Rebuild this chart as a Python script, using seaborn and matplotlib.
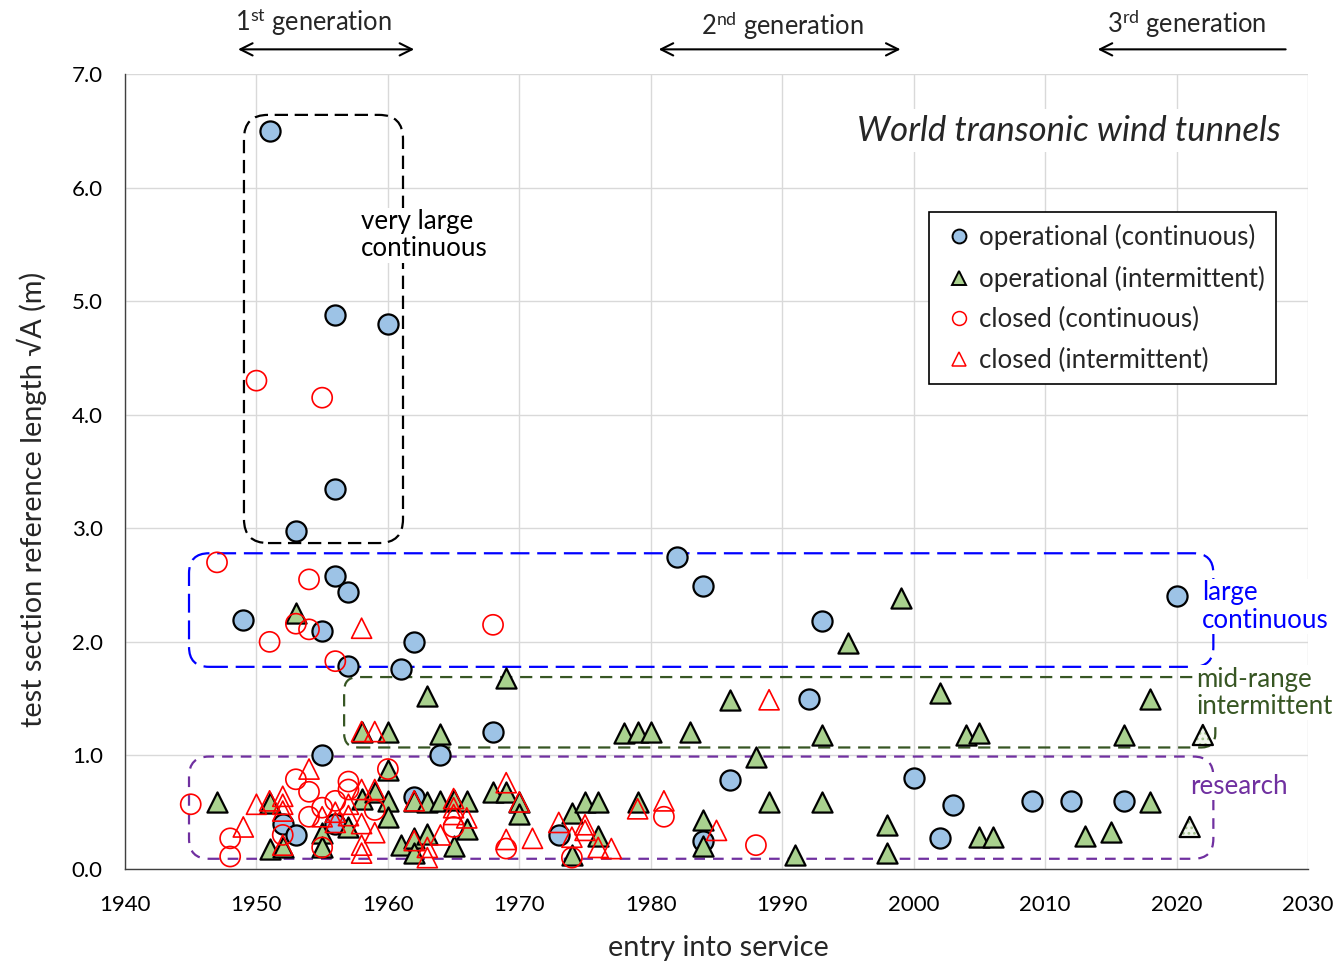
import numpy as np
import pandas as pd
import matplotlib
matplotlib.use("Agg")
import matplotlib.pyplot as plt
import seaborn as sns
from matplotlib.patches import FancyBboxPatch
from matplotlib.lines import Line2D
import matplotlib.transforms as mtransforms

# ---------------- data ----------------
op_cont_year = [1951, 1956, 1960, 1956, 1953, 1956, 1957, 1949, 1955, 1962, 1957, 1961,
                1955, 1964, 1968, 1962, 1952, 1953, 1956, 1973, 1984, 1986, 1982, 1984,
                1993, 1992, 2000, 2002, 2003, 2009, 2012, 2016, 2020]
op_cont_len = [6.50, 4.88, 4.80, 3.35, 2.98, 2.58, 2.44, 2.19, 2.10, 2.00, 1.79, 1.76,
               1.00, 1.00, 1.21, 0.63, 0.40, 0.30, 0.40, 0.30, 0.25, 0.78, 2.75, 2.49,
               2.18, 1.50, 0.80, 0.27, 0.56, 0.60, 0.60, 0.60, 2.40]

op_int_year = [1953, 1969, 1963, 1958, 1960, 1964, 1978, 1979, 1980, 1983, 1986, 1988,
               1993, 1995, 1999, 2002, 2004, 2005, 2016, 2018,
               1947, 1951, 1951, 1952, 1955, 1955, 1957, 1958, 1959, 1960, 1960, 1960,
               1961, 1962, 1962, 1962, 1963, 1963, 1964, 1965, 1965, 1966, 1966, 1968,
               1969, 1970, 1970, 1974, 1974, 1975, 1976, 1976, 1979, 1984, 1984, 1989,
               1991, 1993, 1998, 1998, 2005, 2006, 2013, 2015, 2018]
op_int_len = [2.25, 1.68, 1.52, 1.21, 1.21, 1.19, 1.20, 1.21, 1.21, 1.21, 1.49, 0.99,
              1.18, 1.99, 2.39, 1.55, 1.18, 1.20, 1.18, 1.50,
              0.59, 0.58, 0.18, 0.19, 0.32, 0.19, 0.37, 0.62, 0.68, 0.87, 0.60, 0.46,
              0.21, 0.60, 0.27, 0.14, 0.59, 0.31, 0.60, 0.61, 0.20, 0.60, 0.35, 0.68,
              0.68, 0.59, 0.48, 0.49, 0.12, 0.59, 0.59, 0.29, 0.59, 0.43, 0.20, 0.59,
              0.12, 0.59, 0.39, 0.14, 0.28, 0.28, 0.29, 0.33, 0.59]

planned_year = [2021, 2022]
planned_len = [0.37, 1.18]

closed_cont_year = [1950, 1955, 1947, 1954, 1953, 1954, 1951, 1956, 1968, 1945, 1948, 1948,
                    1953, 1954, 1957, 1957, 1956, 1955, 1954, 1959, 1960, 1952, 1955, 1965,
                    1969, 1981, 1988, 1974]
closed_cont_len = [4.30, 4.15, 2.70, 2.55, 2.16, 2.11, 2.00, 1.83, 2.15, 0.57, 0.27, 0.11,
                   0.79, 0.68, 0.77, 0.70, 0.60, 0.54, 0.46, 0.52, 0.88, 0.30, 0.19, 0.37,
                   0.18, 0.46, 0.21, 0.10]

closed_int_year = [1958, 1989, 1958, 1959, 1949, 1950, 1951, 1952, 1952, 1952, 1952, 1954,
                   1958, 1959, 1957, 1956, 1955, 1957, 1958, 1959, 1958, 1958, 1956, 1962,
                   1962, 1963, 1963, 1964, 1965, 1965, 1965, 1966, 1969, 1969, 1970, 1971,
                   1973, 1974, 1975, 1975, 1976, 1977, 1979, 1981, 1985]
closed_int_len = [2.12, 1.49, 1.21, 1.21, 0.37, 0.57, 0.60, 0.64, 0.57, 0.51, 0.21, 0.88,
                  0.70, 0.70, 0.57, 0.50, 0.46, 0.47, 0.40, 0.32, 0.21, 0.14, 0.41, 0.60,
                  0.25, 0.19, 0.10, 0.30, 0.62, 0.54, 0.48, 0.45, 0.76, 0.26, 0.59, 0.27,
                  0.41, 0.28, 0.39, 0.34, 0.19, 0.18, 0.53, 0.60, 0.34]

legend_labels = ["operational (continuous)", "operational (intermittent)",
                 "closed (continuous)", "closed (intermittent)"]
x_ticks = [1940, 1950, 1960, 1970, 1980, 1990, 2000, 2010, 2020, 2030]
y_ticks = [0, 1, 2, 3, 4, 5, 6, 7]

# ---------------- style ----------------
sns.set_theme(style="white")
plt.rcParams["font.family"] = ["Lato", "DejaVu Sans"]
plt.rcParams["mathtext.fontset"] = "custom"
plt.rcParams["mathtext.rm"] = "Lato"
plt.rcParams["mathtext.it"] = "Lato:italic"
plt.rcParams["hatch.linewidth"] = 1.2

BLUE_FILL = "#9DC3E6"
GREEN_FILL = "#A9D18E"
RED = "#FF0000"

fig = plt.figure(figsize=(13.37, 9.69), dpi=100)
ax = fig.add_axes([125 / 1337, 100 / 969, 1183 / 1337, 795 / 969])
ax.set_xlim(1940, 2030)
ax.set_ylim(0, 7)

MS = 210

sns.scatterplot(x=op_cont_year, y=op_cont_len, ax=ax, marker="o", s=MS,
                color=BLUE_FILL, edgecolor="black", linewidth=1.6, zorder=3, legend=False)
sns.scatterplot(x=op_int_year, y=op_int_len, ax=ax, marker="^", s=MS,
                color=GREEN_FILL, edgecolor="black", linewidth=1.6, zorder=4, legend=False)
# planned tunnels: light stippled fill + black outline
sns.scatterplot(x=planned_year, y=planned_len, ax=ax, marker="^", s=MS,
                color="#F0F5EC", linewidth=0, zorder=4, legend=False)
ax.collections[-1].set_edgecolor("#A3C08E")
ax.collections[-1].set_hatch("...")
ax.collections[-1].set_linewidth(0)
sns.scatterplot(x=planned_year, y=planned_len, ax=ax, marker="^", s=MS,
                color="black", linewidth=1.6, zorder=4.5, legend=False)
ax.collections[-1].set_facecolor("none")
ax.collections[-1].set_edgecolor("black")
sns.scatterplot(x=closed_cont_year, y=closed_cont_len, ax=ax, marker="o", s=MS,
                color=RED, linewidth=1.2, zorder=5, legend=False)
ax.collections[-1].set_facecolor("none")
ax.collections[-1].set_edgecolor(RED)
sns.scatterplot(x=closed_int_year, y=closed_int_len, ax=ax, marker="^", s=MS,
                color=RED, linewidth=1.2, zorder=6, legend=False)
ax.collections[-1].set_facecolor("none")
ax.collections[-1].set_edgecolor(RED)

# axes styling
ax.set_xticks(x_ticks)
ax.set_yticks(y_ticks)
ax.set_yticklabels([f"{v:.1f}" for v in y_ticks])
ax.grid(True, color="#D9D9D9", linewidth=1.0, zorder=0)
ax.set_axisbelow(True)
for s in ["top", "right"]:
    ax.spines[s].set_visible(False)
for s in ["left", "bottom"]:
    ax.spines[s].set_color("#404040")
    ax.spines[s].set_linewidth(1.0)
ax.tick_params(axis="both", length=0, labelsize=16, colors="black")
ax.tick_params(axis="x", pad=19)
ax.tick_params(axis="y", pad=16)

ax.set_xlabel("entry into service", fontsize=20.8)
ax.set_ylabel("test section reference length √A (m)", fontsize=20.8)
ax.xaxis.set_label_coords(0.502, -0.099)
ax.xaxis.label.set_va("center")
ax.yaxis.set_label_coords(-0.0786, 0.465)
ax.yaxis.label.set_va("center")

# rounded dashed boxes (pixel-uniform corner radius)
px_per_year = 1183 / 90
px_per_unit = 795 / 7
aspect = px_per_year / px_per_unit

def rbox(x0, x1, y0, y1, color, dashes, r_px=24, lw=1.6):
    r = r_px / px_per_year
    p = FancyBboxPatch((x0, y0), x1 - x0, y1 - y0,
                       boxstyle=f"round,pad=0,rounding_size={r}",
                       mutation_aspect=aspect, fill=False, edgecolor=color,
                       linewidth=lw, linestyle=(0, dashes), zorder=2)
    ax.add_patch(p)

rbox(1949.05, 1961.15, 2.87, 6.64, "black", (6, 3))
rbox(1944.87, 2022.8, 1.78, 2.78, "#0000FF", (8.5, 3.5), r_px=20)
rbox(1956.67, 2022.95, 1.07, 1.69, "#375623", (5.5, 3.5), r_px=14)
rbox(1944.87, 2022.8, 0.09, 0.99, "#7030A0", (4.8, 3.6), r_px=20)

# box labels
white = dict(facecolor="white", edgecolor="none", pad=1)
ax.text(1957.96, 5.58, "very large\ncontinuous", fontsize=18.6, ha="left", va="center",
        color="black", bbox=white, zorder=7, linespacing=1.12)
ax.text(2021.96, 2.31, "large\ncontinuous", fontsize=18.6, ha="left", va="center",
        color="#0000FF", bbox=white, zorder=7, linespacing=1.12, clip_on=False)
ax.text(2021.5, 1.55, "mid-range\nintermittent", fontsize=18.6, ha="left", va="center",
        color="#375623", bbox=white, zorder=7, linespacing=1.12, clip_on=False)
ax.text(2021.0, 0.73, "research", fontsize=18.6, ha="left", va="center",
        color="#7030A0", bbox=white, zorder=7, clip_on=False)

# title
ax.text(2027.9, 6.5, "World transonic wind tunnels", fontsize=25, style="italic",
        ha="right", va="center", bbox=dict(facecolor="white", edgecolor="none", pad=4),
        zorder=7)

# generation arrows
trans = mtransforms.blended_transform_factory(ax.transData, ax.transAxes)
arrow_kw = dict(lw=1.5, color="black", mutation_scale=22, shrinkA=0, shrinkB=0)
ax.annotate("", xy=(1962.0, 1.031), xytext=(1948.6, 1.031), xycoords=trans,
            textcoords=trans, arrowprops=dict(arrowstyle="<->", **arrow_kw),
            annotation_clip=False)
ax.annotate("", xy=(1999.0, 1.031), xytext=(1980.6, 1.031), xycoords=trans,
            textcoords=trans, arrowprops=dict(arrowstyle="<->", **arrow_kw),
            annotation_clip=False)
ax.annotate("", xy=(2014.0, 1.031), xytext=(2028.3, 1.031), xycoords=trans,
            textcoords=trans, arrowprops=dict(arrowstyle="->", **arrow_kw),
            annotation_clip=False)
ax.text(1954.3, 1.065, r"1$^{\mathrm{st}}$ generation", transform=trans, fontsize=18.4,
        ha="center", va="center")
ax.text(1990.0, 1.061, r"2$^{\mathrm{nd}}$ generation", transform=trans, fontsize=18.4,
        ha="center", va="center")
ax.text(2020.8, 1.063, r"3$^{\mathrm{rd}}$ generation", transform=trans, fontsize=18.4,
        ha="center", va="center")

# legend
handles = [
    Line2D([], [], linestyle="none", marker="o", markersize=10, markerfacecolor=BLUE_FILL,
           markeredgecolor="black", markeredgewidth=1.4),
    Line2D([], [], linestyle="none", marker="^", markersize=10, markerfacecolor=GREEN_FILL,
           markeredgecolor="black", markeredgewidth=1.4),
    Line2D([], [], linestyle="none", marker="o", markersize=10, markerfacecolor="none",
           markeredgecolor=RED, markeredgewidth=1.1),
    Line2D([], [], linestyle="none", marker="^", markersize=10, markerfacecolor="none",
           markeredgecolor=RED, markeredgewidth=1.1),
]
leg = ax.legend(handles, legend_labels, loc="upper left", bbox_to_anchor=(0.680, 0.826),
                fontsize=18.6, frameon=True, fancybox=False, edgecolor="black",
                framealpha=1, handlelength=1.4, handletextpad=0.05, labelspacing=0.6,
                borderpad=0.45, borderaxespad=0)
leg.get_frame().set_linewidth(1.2)
leg.set_zorder(10)

fig.savefig("out.png", dpi=100)
